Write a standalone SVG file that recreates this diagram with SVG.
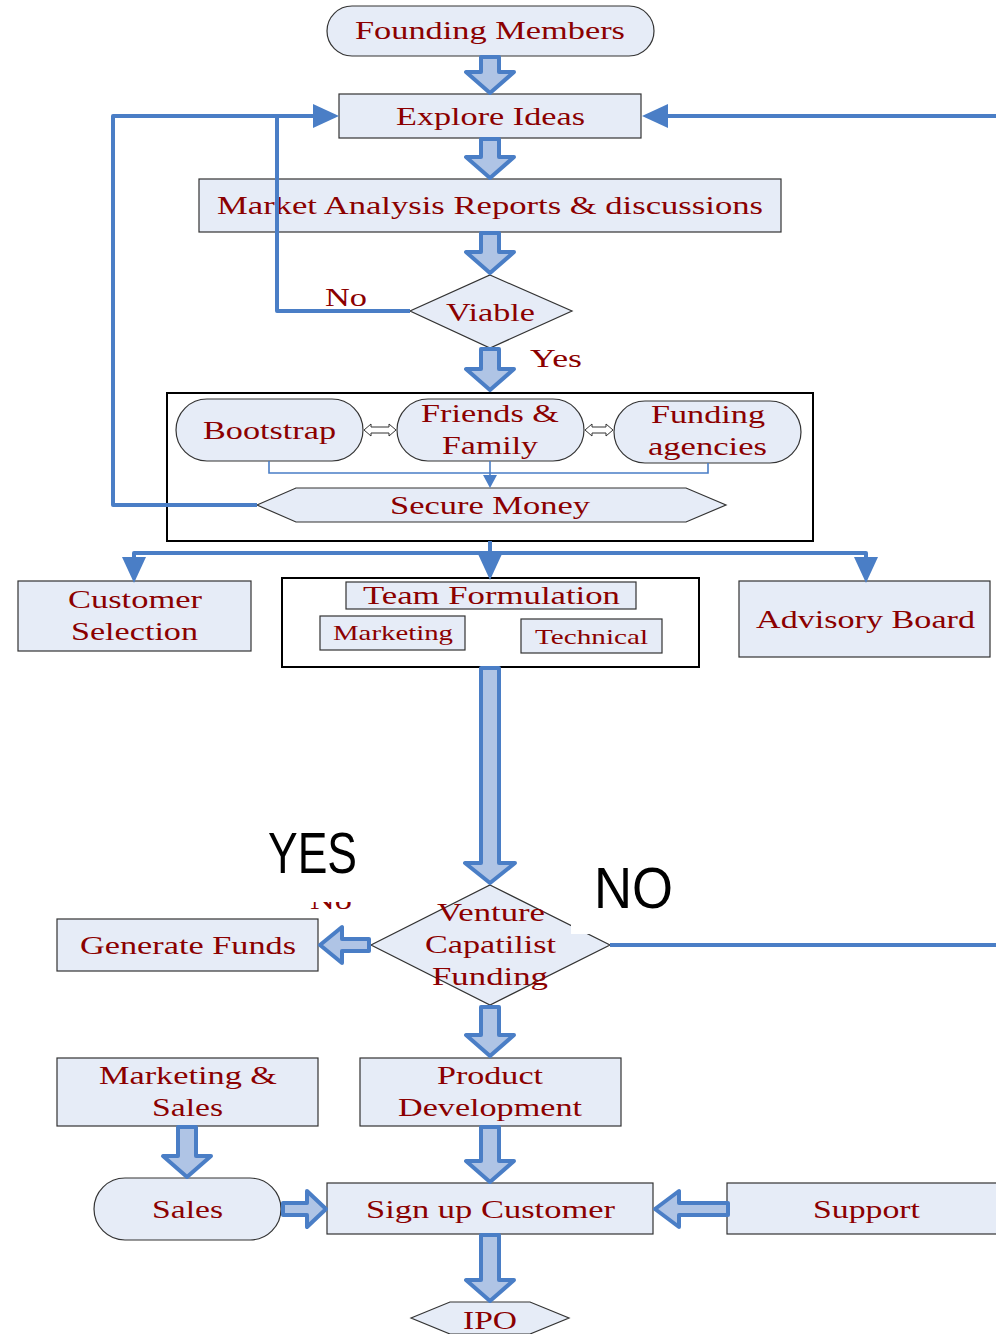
<svg xmlns="http://www.w3.org/2000/svg" width="996" height="1334" viewBox="0 0 996 1334">
<style>
.n{fill:#E6ECF7;stroke:#333;stroke-width:1.2}
.c{fill:#fff;stroke:#000;stroke-width:2}
.t{font-family:"Liberation Serif","Times New Roman",serif;font-size:26px;fill:#8B0000}
.s{font-size:22px}
.ba{fill:#AFC4E5;stroke:#4A7EC6;stroke-width:4;stroke-linejoin:round}
.ln{fill:none;stroke:#4A7EC6;stroke-width:4;stroke-linejoin:round}
.th{fill:none;stroke:#4A7EC6;stroke-width:1.6}
.big{font-family:"Liberation Sans",Arial,sans-serif;font-size:58px;fill:#000}
</style>
<defs>
<marker id="ah" markerUnits="userSpaceOnUse" markerWidth="26" markerHeight="24" refX="0" refY="12" orient="auto">
<path d="M0,0 L26,12 L0,24 Z" fill="#4A7EC6"/>
</marker>
<marker id="sh" markerUnits="userSpaceOnUse" markerWidth="14" markerHeight="14" refX="0" refY="7" orient="auto">
<path d="M0,0 L13,7 L0,14 Z" fill="#4A7EC6"/>
</marker>
</defs>
<rect width="996" height="1334" fill="#fff"/>

<g id="founding"><rect class="n" x="327" y="6" width="327" height="50" rx="25"/><text class="t" x="355" y="39" textLength="270" lengthAdjust="spacingAndGlyphs">Founding Members</text></g>
<g id="explore"><rect class="n" x="339" y="94" width="302" height="44"/><text class="t" x="396" y="125" textLength="189" lengthAdjust="spacingAndGlyphs">Explore Ideas</text></g>
<g id="market"><rect class="n" x="199" y="179" width="582" height="53"/><text class="t" x="217" y="214" textLength="546" lengthAdjust="spacingAndGlyphs">Market Analysis Reports &amp; discussions</text></g>
<g id="viable"><polygon class="n" points="490,275 572,311 490,348 410,311"/><text class="t" x="446" y="321" textLength="89" lengthAdjust="spacingAndGlyphs">Viable</text></g>

<g id="money-box"><rect class="c" x="167" y="393" width="646" height="148"/></g>
<g id="bootstrap"><rect class="n" x="176" y="399" width="187" height="62" rx="31"/><text class="t" x="203" y="439" textLength="133" lengthAdjust="spacingAndGlyphs">Bootstrap</text></g>
<g id="friends"><rect class="n" x="397" y="399" width="187" height="62" rx="31"/><text class="t" x="421" y="422" textLength="138" lengthAdjust="spacingAndGlyphs">Friends &amp;</text><text class="t" x="442" y="454" textLength="96" lengthAdjust="spacingAndGlyphs">Family</text></g>
<g id="funding"><rect class="n" x="614" y="401" width="187" height="62" rx="31"/><text class="t" x="651" y="423" textLength="114" lengthAdjust="spacingAndGlyphs">Funding</text><text class="t" x="648" y="455" textLength="119" lengthAdjust="spacingAndGlyphs">agencies</text></g>
<g id="secure"><polygon class="n" points="257,505 296,488 686,488 726,505 686,522 296,522"/><text class="t" x="390" y="514" textLength="200" lengthAdjust="spacingAndGlyphs">Secure Money</text></g>

<g id="customer"><rect class="n" x="18" y="581" width="233" height="70"/><text class="t" x="68" y="608" textLength="134" lengthAdjust="spacingAndGlyphs">Customer</text><text class="t" x="71" y="640" textLength="127" lengthAdjust="spacingAndGlyphs">Selection</text></g>
<g id="team-box"><rect class="c" x="282" y="578" width="417" height="89"/></g>
<g id="team"><rect class="n" x="346" y="582" width="290" height="27"/><text class="t" x="363" y="604" textLength="257" lengthAdjust="spacingAndGlyphs">Team Formulation</text></g>
<g id="marketing"><rect class="n" x="320" y="616" width="145" height="34"/><text class="t s" x="333" y="640" textLength="120" lengthAdjust="spacingAndGlyphs">Marketing</text></g>
<g id="technical"><rect class="n" x="521" y="619" width="141" height="34"/><text class="t s" x="535" y="644" textLength="113" lengthAdjust="spacingAndGlyphs">Technical</text></g>
<g id="advisory"><rect class="n" x="739" y="581" width="251" height="76"/><text class="t" x="756" y="628" textLength="219" lengthAdjust="spacingAndGlyphs">Advisory Board</text></g>

<g id="venture"><polygon class="n" points="490,885 610,945 490,1005 371,945"/><text class="t" x="437" y="921" textLength="108" lengthAdjust="spacingAndGlyphs">Venture</text><text class="t" x="425" y="953" textLength="131" lengthAdjust="spacingAndGlyphs">Capatilist</text><text class="t" x="432" y="985" textLength="116" lengthAdjust="spacingAndGlyphs">Funding</text></g>
<g id="generate"><rect class="n" x="57" y="919" width="261" height="52"/><text class="t" x="80" y="954" textLength="216" lengthAdjust="spacingAndGlyphs">Generate Funds</text></g>
<g id="mktsales"><rect class="n" x="57" y="1058" width="261" height="68"/><text class="t" x="99" y="1084" textLength="178" lengthAdjust="spacingAndGlyphs">Marketing &amp;</text><text class="t" x="152" y="1116" textLength="71" lengthAdjust="spacingAndGlyphs">Sales</text></g>
<g id="product"><rect class="n" x="360" y="1058" width="261" height="68"/><text class="t" x="437" y="1084" textLength="106" lengthAdjust="spacingAndGlyphs">Product</text><text class="t" x="398" y="1116" textLength="184" lengthAdjust="spacingAndGlyphs">Development</text></g>
<g id="sales"><rect class="n" x="94" y="1178" width="187" height="62" rx="31"/><text class="t" x="152" y="1218" textLength="71" lengthAdjust="spacingAndGlyphs">Sales</text></g>
<g id="signup"><rect class="n" x="327" y="1183" width="326" height="51"/><text class="t" x="366" y="1218" textLength="249" lengthAdjust="spacingAndGlyphs">Sign up Customer</text></g>
<g id="support"><rect class="n" x="727" y="1183" width="280" height="51"/><text class="t" x="813" y="1218" textLength="107" lengthAdjust="spacingAndGlyphs">Support</text></g>
<g id="ipo"><polygon class="n" points="411,1318 450,1302 530,1302 569,1318 530,1334 450,1334"/><text class="t" x="463" y="1329" textLength="54" lengthAdjust="spacingAndGlyphs">IPO</text></g>

<g id="connectors">
<path class="ba" d="M481,57 H499 V72 H514 L490,93 L466,72 H481 Z"/>
<path class="ba" d="M481,139 H499 V157 H514 L490,178 L466,157 H481 Z"/>
<path class="ba" d="M481,233 H499 V252 H514 L490,273 L466,252 H481 Z"/>
<path class="ba" d="M481,349 H499 V369 H514 L490,390 L466,369 H481 Z"/>
<path class="ba" d="M481,668 H499 V863 H515 L490,883 L465,863 H481 Z"/>
<path class="ba" d="M481,1007 H499 V1035 H514 L490,1056 L466,1035 H481 Z"/>
<path class="ba" d="M178,1127 H196 V1156 H211 L187,1177 L163,1156 H178 Z"/>
<path class="ba" d="M481,1127 H499 V1161 H514 L490,1182 L466,1161 H481 Z"/>
<path class="ba" d="M481,1235 H499 V1280 H514 L490,1301 L466,1280 H481 Z"/>
<path class="ba" d="M369,939 V951 H342 V963 L320,945 L342,927 V939 Z"/>
<path class="ba" d="M283,1203 H307 V1191 L326,1209 L307,1227 V1215 H283 Z"/>
<path class="ba" d="M728,1203 V1215 H679 V1227 L655,1209 L679,1191 V1203 Z"/>

<path class="ln" d="M257,505 H113 V116 H313" marker-end="url(#ah)"/>
<path class="ln" d="M410,311 H277 V116"/>
<path class="ln" d="M996,116 H668" marker-end="url(#ah)"/>
<path class="ln" d="M490,541 V553"/>
<path class="ln" d="M134,556 V553 H866 V556" />
<path class="ln" d="M134,553 V557" marker-end="url(#ah)"/>
<path class="ln" d="M490,553 V554" marker-end="url(#ah)"/>
<path class="ln" d="M866,553 V557" marker-end="url(#ah)"/>
<path class="ln" d="M610,945 H996"/>

<path class="th" d="M269,461 V473 H708 V463"/>
<path class="th" d="M490,461 V475" marker-end="url(#sh)"/>
<polygon points="364,430 371,424 371,427 389,427 389,424 396,430 389,436 389,433 371,433 371,436" fill="#fff" stroke="#333" stroke-width="1"/>
<polygon points="585,430 592,424 592,427 606,427 606,424 613,430 606,436 606,433 592,433 592,436" fill="#fff" stroke="#333" stroke-width="1"/>
</g>

<g id="labels">
<text class="t" x="325" y="306" textLength="42" lengthAdjust="spacingAndGlyphs">No</text>
<text class="t" x="530" y="367" textLength="52" lengthAdjust="spacingAndGlyphs">Yes</text>
<text class="t" x="310" y="909" textLength="42" lengthAdjust="spacingAndGlyphs">No</text>
<rect x="262" y="822" width="100" height="80" fill="#fff"/>
<text class="big" x="268" y="873" textLength="89" lengthAdjust="spacingAndGlyphs">YES</text>
<rect x="571" y="858" width="110" height="76" fill="#fff"/>
<text class="big" x="594" y="908" textLength="79" lengthAdjust="spacingAndGlyphs">NO</text>
</g>
</svg>
